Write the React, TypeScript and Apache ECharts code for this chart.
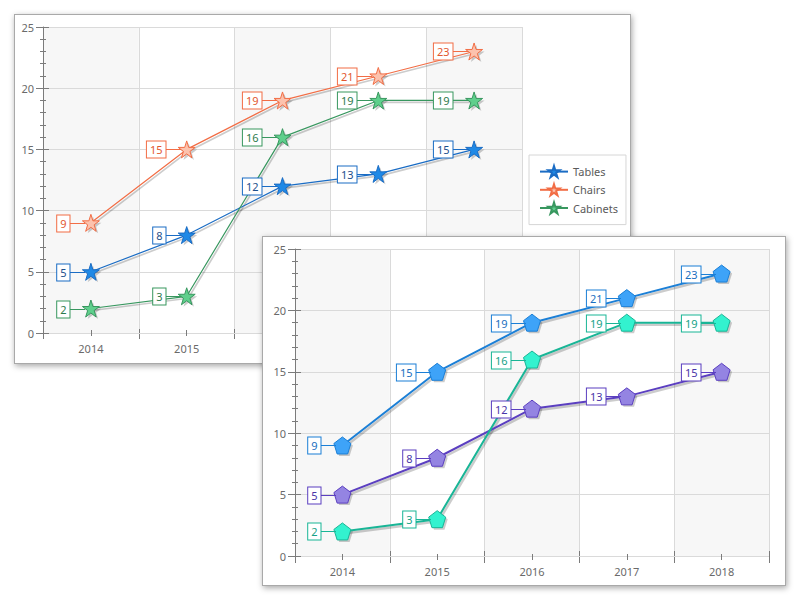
import React, { useEffect, useRef } from 'react';
import * as echarts from 'echarts';

// ---------- data ----------
const YEARS = ['2014', '2015', '2016', '2017', '2018'];
const SERIES_NAMES_1 = ['Tables', 'Chairs', 'Cabinets'];
const TABLES = [5, 8, 12, 13, 15];
const CHAIRS = [9, 15, 19, 21, 23];
const CABINETS = [2, 3, 16, 19, 19];
const SERIES_NAMES_2 = ['Series A', 'Series B', 'Series C'];
const SERIES_A = [9, 15, 19, 21, 23];
const SERIES_B = [5, 8, 12, 13, 15];
const SERIES_C = [2, 3, 16, 19, 19];
const Y_MIN = 0;
const Y_MAX = 25;
const Y_STEP = 5;

// ---------- styles ----------
const FONT = 'Noto Sans';
const AXIS_COLOR = '#7b7b7b';
const LABEL_COLOR = '#6a6a6a';
const SPLIT_COLOR = '#dadada';
const SHADOW_COLOR = 'rgba(0,0,0,0.2)';
const STAR = 'path://M50,2L61.2,36.6L97.6,36.6L68.2,58L79.4,92.6L50,71.2L20.6,92.6L31.8,58L2.4,36.6L38.8,36.6Z';
const PENTAGON = 'path://M50,2L97.6,36.6L79.4,92.6L20.6,92.6L2.4,36.6Z';

type SeriesCfg = { name: string; data: number[]; line: string; fill: string; text: string };

const PANEL1_SERIES: SeriesCfg[] = [
  { name: SERIES_NAMES_1[0], data: TABLES, line: '#1a6cc4', fill: '#1f89e6', text: '#1d4f8c' },
  { name: SERIES_NAMES_1[1], data: CHAIRS, line: '#f26d45', fill: '#fcc2ad', text: '#e2582f' },
  { name: SERIES_NAMES_1[2], data: CABINETS, line: '#38975f', fill: '#5fcf8c', text: '#2d7a4c' },
];
const PANEL2_SERIES: SeriesCfg[] = [
  { name: SERIES_NAMES_2[0], data: SERIES_A, line: '#1b7fd6', fill: '#3ea3f8', text: '#1b6fc0' },
  { name: SERIES_NAMES_2[1], data: SERIES_B, line: '#5b3fc0', fill: '#9484e2', text: '#4a36a8' },
  { name: SERIES_NAMES_2[2], data: SERIES_C, line: '#19b596', fill: '#33f2cf', text: '#17a287' },
];

type PanelCfg = {
  grid: { left: number; top: number; width: number; height: number };
  series: SeriesCfg[];
  symbol: string;
  symbolSize: number;
  lineWidth: number;
  legend: boolean;
  bTickOut: number;
  bTickIn: number;
  cTickOut: number;
  cTickIn: number;
};

function buildOption(cfg: PanelCfg): any {
  const xExtra = {
    type: 'category',
    data: YEARS,
    gridIndex: 0,
    position: 'bottom',
    boundaryGap: true,
    axisLine: { show: false, onZero: false },
    axisLabel: { show: false },
    splitLine: { show: false },
    splitArea: { show: false },
    z: 3,
  };
  const tickStyle = { color: AXIS_COLOR, width: 1 };
  const xAxis = [
    {
      type: 'category',
      data: YEARS,
      gridIndex: 0,
      position: 'bottom',
      boundaryGap: true,
      z: 0,
      axisLine: { show: true, onZero: false, lineStyle: { color: AXIS_COLOR, width: 1 } },
      axisTick: { show: true, length: cfg.bTickOut, lineStyle: tickStyle },
      axisLabel: { show: true, margin: 10, color: LABEL_COLOR, fontFamily: FONT, fontSize: 11 },
      splitLine: { show: true, lineStyle: { color: SPLIT_COLOR, width: 1 } },
      splitArea: { show: true, areaStyle: { color: ['#f7f7f7', '#ffffff'] } },
    },
    { ...xExtra, axisTick: { show: true, inside: true, length: cfg.bTickIn, lineStyle: tickStyle } },
    { ...xExtra, axisTick: { show: true, alignWithLabel: true, length: cfg.cTickOut, lineStyle: tickStyle } },
    { ...xExtra, axisTick: { show: true, alignWithLabel: true, inside: true, length: cfg.cTickIn, lineStyle: tickStyle } },
  ];
  const yAxis = [
    {
      type: 'value',
      gridIndex: 0,
      position: 'left',
      min: Y_MIN,
      max: Y_MAX,
      interval: Y_STEP,
      z: 1,
      axisLine: { show: true, onZero: false, lineStyle: { color: AXIS_COLOR, width: 1 } },
      axisTick: { show: true, length: 7, lineStyle: tickStyle },
      minorTick: { show: true, splitNumber: 5, length: 3, lineStyle: tickStyle },
      axisLabel: { show: true, margin: 9, color: LABEL_COLOR, fontFamily: FONT, fontSize: 11 },
      splitLine: { show: true, lineStyle: { color: SPLIT_COLOR, width: 1 } },
    },
    {
      type: 'value',
      gridIndex: 0,
      position: 'left',
      min: Y_MIN,
      max: Y_MAX,
      interval: Y_STEP,
      z: 3,
      axisLine: { show: false, onZero: false },
      axisTick: { show: true, inside: true, length: 6, lineStyle: tickStyle },
      minorTick: { show: true, splitNumber: 5, length: 3, lineStyle: tickStyle },
      axisLabel: { show: false },
      splitLine: { show: false },
    },
  ];

  // grey offset shadow of each line segment
  const lineShadowSeries = cfg.series.map((s) => ({
    type: 'custom',
    name: s.name + ' line shadow',
    xAxisIndex: 0,
    yAxisIndex: 0,
    data: s.data.slice(1).map((v, k) => [k + 1, v, k, s.data[k]]),
    encode: { x: [0, 2], y: [1, 3] },
    clip: false,
    silent: true,
    z: 1,
    renderItem: (params: any, api: any) => {
      const a = api.coord([api.value(2), api.value(3)]);
      const b = api.coord([api.value(0), api.value(1)]);
      return {
        type: 'line',
        shape: { x1: a[0] + 1.5, y1: a[1] + 2, x2: b[0] + 1.5, y2: b[1] + 2 },
        style: { stroke: SHADOW_COLOR, lineWidth: cfg.lineWidth + 0.5 },
      };
    },
  }));
  // grey offset shadow of each marker
  const symbolShadowSeries = cfg.series.map((s) => ({
    type: 'line',
    name: s.name + ' marker shadow',
    data: s.data,
    xAxisIndex: 0,
    yAxisIndex: 0,
    symbol: cfg.symbol,
    symbolSize: cfg.symbolSize,
    symbolOffset: [2, 2],
    showAllSymbol: true,
    silent: true,
    z: 1,
    lineStyle: { opacity: 0, width: 0 },
    itemStyle: { color: SHADOW_COLOR, borderWidth: 0 },
    emphasis: { disabled: true },
  }));
  const lineSeries = cfg.series.map((s) => ({
    type: 'line',
    name: s.name,
    data: s.data,
    xAxisIndex: 0,
    yAxisIndex: 0,
    symbol: cfg.symbol,
    symbolSize: cfg.symbolSize,
    showAllSymbol: true,
    z: 2,
    lineStyle: { color: s.line, width: cfg.lineWidth },
    itemStyle: { color: s.fill, borderColor: s.line, borderWidth: 1 },
    emphasis: { disabled: true },
  }));
  const labelSeries = cfg.series.map((s) => ({
    type: 'custom',
    name: s.name + ' labels',
    xAxisIndex: 0,
    yAxisIndex: 0,
    data: s.data.map((v, i) => [i, v]),
    encode: { x: 0, y: 1 },
    clip: false,
    silent: true,
    z: 4,
    renderItem: (params: any, api: any) => {
      const p = api.coord([api.value(0), api.value(1)]);
      const x = Math.round(p[0]);
      const y = Math.round(p[1]) + 0.5;
      return {
        type: 'group',
        children: [
          {
            type: 'line',
            shape: { x1: x - 22, y1: y, x2: x - 6, y2: y },
            style: { stroke: s.line, lineWidth: 1 },
          },
          {
            type: 'text',
            x: x - 21.5,
            y: y,
            style: {
              text: String(api.value(1)),
              fill: s.text,
              font: `11px "${FONT}"`,
              align: 'right',
              verticalAlign: 'middle',
              backgroundColor: '#ffffff',
              borderColor: s.line,
              borderWidth: 1,
              padding: [2, 3, 2, 3],
              lineHeight: 12,
            },
          },
        ],
      };
    },
  }));
  const option: any = {
    animation: false,
    textStyle: { fontFamily: FONT },
    grid: { ...cfg.grid, containLabel: false },
    xAxis,
    yAxis,
    series: [...lineShadowSeries, ...symbolShadowSeries, ...lineSeries, ...labelSeries],
  };
  if (cfg.legend) {
    option.legend = {
      data: cfg.series.map((s) => s.name),
      orient: 'vertical',
      left: 514,
      top: 140,
      padding: [10, 8, 10, 10],
      itemGap: 5,
      itemWidth: 28,
      itemHeight: 14,
      backgroundColor: '#ffffff',
      borderColor: '#d6d6d6',
      borderWidth: 1,
      selectedMode: false,
      textStyle: { color: '#5a5a5a', fontFamily: FONT, fontSize: 11 },
      z: 6,
    };
  }
  return option;
}

const PANEL1: PanelCfg = {
  grid: { left: 28, top: 12, width: 479, height: 306 },
  series: PANEL1_SERIES,
  symbol: STAR,
  symbolSize: 17,
  lineWidth: 1.2,
  legend: true,
  bTickOut: 6,
  bTickIn: 4,
  cTickOut: 3,
  cTickIn: 3,
};
const PANEL2: PanelCfg = {
  grid: { left: 32, top: 12, width: 474, height: 307 },
  series: PANEL2_SERIES,
  symbol: PENTAGON,
  symbolSize: 17,
  lineWidth: 2,
  legend: false,
  bTickOut: 7,
  bTickIn: 5,
  cTickOut: 4,
  cTickIn: 2,
};

function Panel(props: { left: number; top: number; width: number; height: number; cfg: PanelCfg }) {
  const ref = useRef<HTMLDivElement>(null);
  useEffect(() => {
    if (!ref.current) return;
    const chart = echarts.init(ref.current, undefined, { renderer: 'svg' });
    chart.setOption(buildOption(props.cfg));
    return () => chart.dispose();
  }, []);
  return (
    <div
      style={{
        position: 'absolute',
        left: props.left,
        top: props.top,
        width: props.width,
        height: props.height,
        boxSizing: 'border-box',
        border: '1px solid #a9a9a9',
        background: '#ffffff',
        boxShadow: '1px 2px 6px rgba(0,0,0,0.35)',
      }}
    >
      <div ref={ref} style={{ width: props.width - 2, height: props.height - 2 }} />
    </div>
  );
}

export default function App() {
  return (
    <div style={{ position: 'absolute', left: 0, top: 0, width: 800, height: 600, background: '#ffffff' }}>
      <Panel left={14} top={14} width={617} height={350} cfg={PANEL1} />
      <Panel left={262} top={236} width={524} height={350} cfg={PANEL2} />
    </div>
  );
}
